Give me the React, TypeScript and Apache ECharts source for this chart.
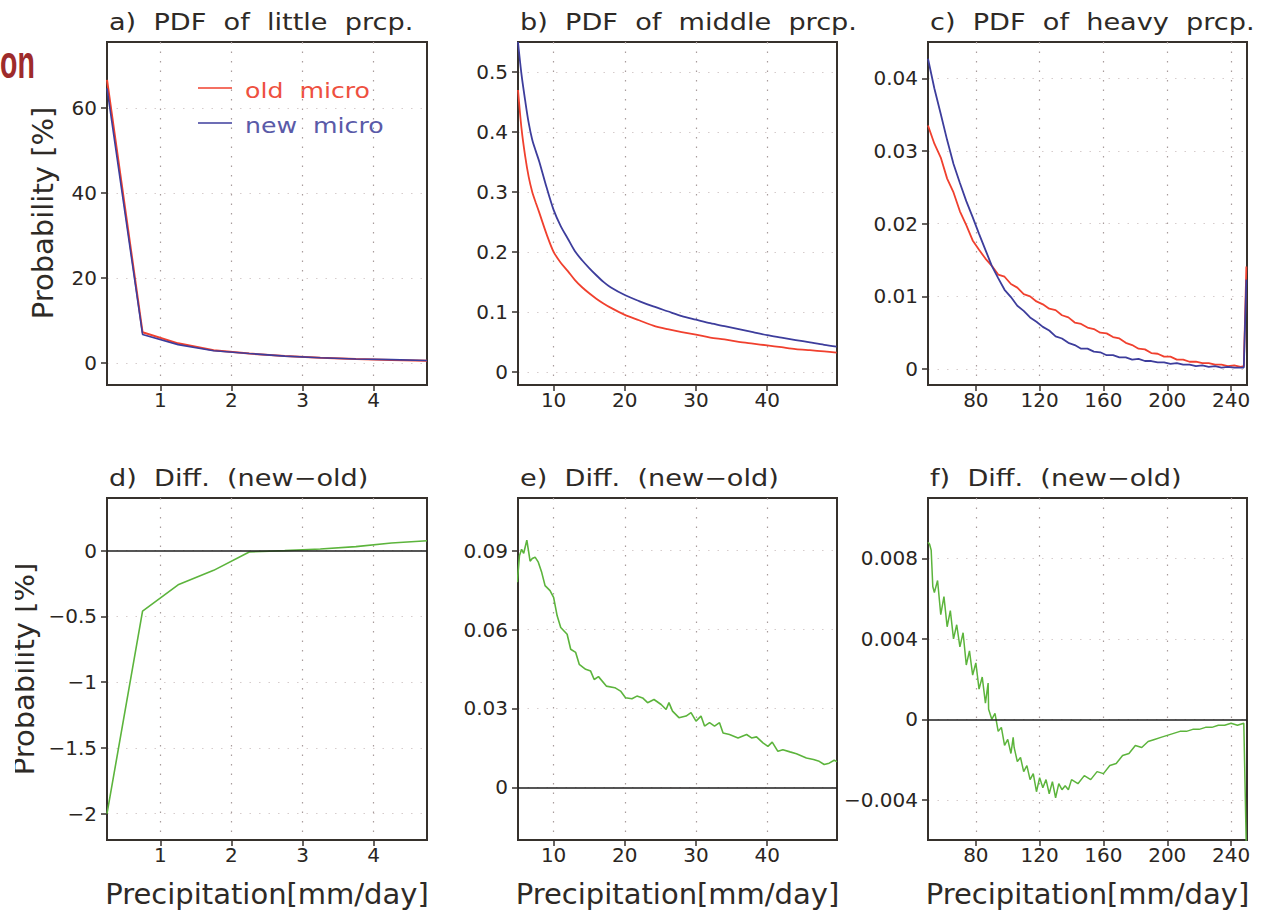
import React, { useEffect, useRef } from "react";
import * as echarts from "echarts";

// ---------- data ----------
const littleX = [0.25, 0.75, 1.25, 1.75, 2.25, 2.75, 3.25, 3.75, 4.25, 4.75];
const littleOld = [66.6, 7.2, 4.6, 3.0, 2.2, 1.6, 1.2, 0.9, 0.7, 0.5];
const littleNew = [64.6, 6.7, 4.3, 2.85, 2.2, 1.6, 1.21, 0.93, 0.76, 0.58];
const littleDiff = [-2.0, -0.46, -0.26, -0.15, -0.01, 0.0, 0.012, 0.03, 0.058, 0.075];

const middleX = [5, 5.5, 6, 6.5, 7, 7.5, 8, 9, 10, 11, 12, 13, 14, 15, 16, 17, 18, 20, 22, 24, 26, 28, 30, 32, 34, 36, 38, 40, 42, 44, 46, 48, 49.75];
const middleOld = [0.47, 0.405, 0.36, 0.325, 0.3, 0.282, 0.265, 0.23, 0.2, 0.182, 0.168, 0.153, 0.141, 0.131, 0.122, 0.114, 0.107, 0.095, 0.086, 0.077, 0.071, 0.066, 0.062, 0.057, 0.054, 0.05, 0.047, 0.044, 0.041, 0.038, 0.036, 0.034, 0.032];
const middleNew = [0.55, 0.495, 0.453, 0.415, 0.387, 0.368, 0.35, 0.308, 0.27, 0.243, 0.222, 0.201, 0.186, 0.173, 0.161, 0.15, 0.141, 0.128, 0.118, 0.109, 0.101, 0.093, 0.087, 0.081, 0.076, 0.071, 0.066, 0.061, 0.057, 0.053, 0.049, 0.045, 0.042];

const middleDiffX = [4.9, 5.2, 5.5, 5.8, 6.24, 6.7, 7.0, 7.4, 7.85, 8.3, 8.8, 9.5, 10, 10.5, 11, 11.9, 12.4, 13.1, 13.6, 14.5, 15.2, 15.7, 16.3, 17.4, 18.6, 19.4, 20.1, 21, 21.7, 22.5, 23.2, 24.1, 25.1, 25.8, 26.2, 26.7, 27.6, 28.6, 29.3, 30, 30.7, 31.2, 31.9, 32.6, 33.3, 33.8, 34.7, 35.9, 37.1, 37.8, 38.5, 39.4, 40.1, 40.7, 41.5, 42.2, 43.2, 44.1, 45.5, 46.5, 47.3, 48, 48.7, 49.4, 49.8];
const middleDiff = [0.078, 0.088, 0.0905, 0.089, 0.094, 0.086, 0.087, 0.0875, 0.0856, 0.082, 0.0767, 0.0748, 0.0722, 0.0652, 0.0608, 0.0582, 0.0525, 0.0513, 0.0468, 0.0449, 0.0442, 0.041, 0.0421, 0.0385, 0.0379, 0.0366, 0.0341, 0.0337, 0.0347, 0.034, 0.0322, 0.0334, 0.0315, 0.0296, 0.0322, 0.029, 0.0265, 0.0271, 0.0284, 0.0252, 0.0271, 0.0233, 0.0246, 0.0233, 0.0246, 0.0207, 0.0201, 0.0188, 0.0201, 0.0188, 0.0192, 0.0169, 0.0156, 0.0172, 0.0137, 0.0143, 0.0135, 0.0128, 0.0112, 0.0106, 0.0099, 0.0087, 0.0092, 0.0103, 0.0098];

const heavyX = [50, 54, 58, 62, 66, 70, 74, 78, 82, 86, 90, 94, 98, 102, 106, 110, 114, 118, 122, 126, 130, 134, 138, 142, 146, 150, 154, 158, 162, 166, 170, 174, 178, 182, 186, 190, 194, 198, 202, 206, 210, 214, 218, 222, 226, 230, 234, 238, 242, 246, 248, 249.6];
const heavyOld = [0.0335, 0.031, 0.0291, 0.0262, 0.0243, 0.0217, 0.0198, 0.0177, 0.0164, 0.0152, 0.0142, 0.0130, 0.0127, 0.0117, 0.0112, 0.0103, 0.0100, 0.0093, 0.0089, 0.0083, 0.0081, 0.0074, 0.0071, 0.0064, 0.0062, 0.0057, 0.0055, 0.0050, 0.0049, 0.0044, 0.0042, 0.0036, 0.0033, 0.0028, 0.0027, 0.0022, 0.0021, 0.0017, 0.0017, 0.0013, 0.0013, 0.0010, 0.0010, 0.0008, 0.0008, 0.0006, 0.0006, 0.0004, 0.0005, 0.0003, 0.0004, 0.0141];
const heavyNew = [0.0427, 0.0386, 0.0351, 0.0315, 0.0282, 0.0256, 0.0231, 0.0209, 0.0186, 0.0164, 0.0142, 0.0125, 0.0109, 0.0099, 0.0087, 0.0080, 0.0071, 0.0065, 0.0058, 0.0053, 0.0045, 0.0042, 0.0036, 0.0033, 0.0028, 0.0028, 0.0024, 0.0023, 0.0019, 0.0019, 0.0016, 0.0016, 0.0013, 0.0014, 0.0011, 0.0011, 0.0009, 0.0009, 0.0007, 0.0008, 0.0006, 0.0006, 0.0004, 0.0005, 0.0003, 0.0004, 0.0002, 0.0003, 0.0002, 0.0002, 0.0002, 0.0123];

const heavyDiffX = [50, 51, 52, 53, 54, 56, 58, 60, 62, 64, 66, 68, 70, 72, 74, 76, 78, 80, 82, 84, 86, 87.7, 88, 90, 92, 94, 96, 98, 100, 102, 103.4, 104, 106, 108, 110, 112, 114, 116, 118, 120, 122, 124, 126, 128, 130, 132, 134, 136, 138, 140, 144, 148, 152, 156, 160, 164, 168, 172, 176, 180, 184, 188, 192, 196, 200, 204, 208, 212, 216, 220, 224, 228, 232, 236, 240, 244, 248, 249.6];
const heavyDiff = [0.0088, 0.0087, 0.0084, 0.0066, 0.0063, 0.0069, 0.0052, 0.0061, 0.0046, 0.0054, 0.004, 0.0047, 0.0036, 0.0043, 0.0027, 0.0034, 0.0022, 0.0028, 0.0015, 0.0021, 0.0008, 0.0018, 0.0005, 0.0000, 0.0003, -0.0006, -0.0004, -0.0013, -0.0010, -0.0017, -0.0009, -0.0014, -0.0021, -0.0019, -0.0026, -0.0023, -0.0030, -0.0027, -0.0036, -0.0029, -0.0034, -0.0030, -0.0037, -0.0031, -0.0039, -0.0032, -0.0035, -0.0033, -0.0035, -0.0030, -0.0032, -0.0028, -0.0030, -0.0026, -0.0027, -0.0023, -0.0022, -0.0018, -0.0017, -0.0013, -0.0014, -0.0011, -0.0010, -0.0009, -0.0008, -0.0007, -0.0006, -0.0006, -0.0005, -0.0005, -0.0004, -0.0004, -0.0003, -0.0003, -0.0002, -0.0003, -0.0002, -0.0065];

const ticksX = [[1, 2, 3, 4], [10, 20, 30, 40], [80, 120, 160, 200, 240]];
const ticksYTop = [[0, 20, 40, 60], [0, 0.1, 0.2, 0.3, 0.4, 0.5], [0, 0.01, 0.02, 0.03, 0.04]];
const ticksYBottom = [[-2, -1.5, -1, -0.5, 0], [0, 0.03, 0.06, 0.09], [-0.004, 0, 0.004, 0.008]];
const rangeX = [[0.25, 4.75], [5, 49.8], [50, 250]];
const rangeYTop = [[-5.2, 75.5], [-0.022, 0.55], [-0.0022, 0.045]];
const rangeYBottom = [[-2.2, 0.4], [-0.02, 0.11], [-0.006, 0.011]];

const titlesTop = ["a)  PDF  of  little  prcp.", "b)  PDF  of  middle  prcp.", "c)  PDF  of  heavy  prcp."];
const titlesBottom = ["d)  Diff.  (new−old)", "e)  Diff.  (new−old)", "f)  Diff.  (new−old)"];
const legendNames = ["old  micro", "new  micro"];
const xName = "Precipitation[mm/day]";
const yName = "Probability [%]";

// ---------- styles ----------
const FONT = "DejaVu Sans";
const RED = "#f0402e";
const BLUE = "#3d3d9c";
const GREEN = "#5cb43c";
const colLeft = [107, 518, 928];
const colW = [320, 319, 319];
const rowTop = [42, 498];
const rowH = [343, 342];

function fmt(v: number) {
  const r = Math.round(v * 1e6) / 1e6;
  if (r === 0) return "0";
  return (r < 0 ? "−" : "") + String(Math.abs(r));
}

function pairs(xs: number[], ys: number[]) {
  return xs.map((x, i) => [x, ys[i]]);
}

export default function App() {
  const ref = useRef<HTMLDivElement>(null);
  useEffect(() => {
    if (!ref.current) return;
    const chart = echarts.init(ref.current, undefined, { renderer: "svg" });

    const grids: any[] = [];
    const xAxes: any[] = [];
    const yAxes: any[] = [];
    for (let r = 0; r < 2; r++) {
      for (let c = 0; c < 3; c++) {
        grids.push({
          left: colLeft[c], top: rowTop[r], width: colW[c], height: rowH[r],
          show: true, borderColor: "#36312c", borderWidth: 2, backgroundColor: "transparent",
          containLabel: false,
        });
        const idx = r * 3 + c;
        const yt = r === 0 ? ticksYTop[c] : ticksYBottom[c];
        const yr = r === 0 ? rangeYTop[c] : rangeYBottom[c];
        xAxes.push({
          type: "value", gridIndex: idx, min: rangeX[c][0], max: rangeX[c][1],
          axisLine: { show: true, onZero: false, lineStyle: { color: "#36312c", width: 2 } },
          axisTick: { show: true, length: 6, customValues: ticksX[c], lineStyle: { color: "#36312c", width: 1.5 } },
          axisLabel: { customValues: ticksX[c], formatter: fmt, fontFamily: FONT, fontSize: 20, color: "#2a2622", margin: 5 },
          splitLine: { show: true, lineStyle: { color: "#a89c9c", width: 1.2, type: [1.5, 8] } },
        });
        yAxes.push({
          type: "value", gridIndex: idx, min: yr[0], max: yr[1],
          axisLine: { show: true, onZero: false, lineStyle: { color: "#36312c", width: 2 } },
          axisTick: { show: true, length: 6, customValues: yt, lineStyle: { color: "#36312c", width: 1.5 } },
          axisLabel: { customValues: yt, formatter: fmt, fontFamily: FONT, fontSize: 20, color: "#2a2622", margin: 10 },
          splitLine: { show: true, lineStyle: { color: "#d6cccc", width: 1.2, type: [1.5, 8] } },
        });
      }
    }

    const lineBase = { type: "line", showSymbol: false, symbol: "none", clip: true, silent: true };
    const zeroLine = {
      silent: true, symbol: ["none", "none"], label: { show: false },
      lineStyle: { color: "#1e1e1e", width: 1.6, type: "solid" },
      data: [{ yAxis: 0 }],
    };
    const series: any[] = [
      { ...lineBase, name: "old micro", xAxisIndex: 0, yAxisIndex: 0, data: pairs(littleX, littleOld), lineStyle: { color: RED, width: 2 } },
      { ...lineBase, name: "new micro", xAxisIndex: 0, yAxisIndex: 0, data: pairs(littleX, littleNew), lineStyle: { color: BLUE, width: 1.6 } },
      { ...lineBase, name: "old micro", xAxisIndex: 1, yAxisIndex: 1, data: pairs(middleX, middleOld), smooth: 0.3, lineStyle: { color: RED, width: 1.8 } },
      { ...lineBase, name: "new micro", xAxisIndex: 1, yAxisIndex: 1, data: pairs(middleX, middleNew), smooth: 0.3, lineStyle: { color: BLUE, width: 1.8 } },
      { ...lineBase, name: "old micro", xAxisIndex: 2, yAxisIndex: 2, data: pairs(heavyX, heavyOld), lineStyle: { color: RED, width: 1.8 } },
      { ...lineBase, name: "new micro", xAxisIndex: 2, yAxisIndex: 2, data: pairs(heavyX, heavyNew), lineStyle: { color: BLUE, width: 1.8 } },
      { ...lineBase, name: "diff little", xAxisIndex: 3, yAxisIndex: 3, data: pairs(littleX, littleDiff), lineStyle: { color: GREEN, width: 1.6 }, markLine: zeroLine },
      { ...lineBase, name: "diff middle", xAxisIndex: 4, yAxisIndex: 4, data: pairs(middleDiffX, middleDiff), lineStyle: { color: GREEN, width: 1.6 }, markLine: zeroLine },
      { ...lineBase, name: "diff heavy", xAxisIndex: 5, yAxisIndex: 5, data: pairs(heavyDiffX, heavyDiff), lineStyle: { color: GREEN, width: 1.5 }, markLine: zeroLine },
    ];

    const titleText = (text: string, x: number, y: number) => ({
      type: "text", x, y, scaleX: 1.18, silent: true,
      style: { text, fontFamily: FONT, fontSize: 23, fill: "#2e2a26", align: "left", verticalAlign: "middle" },
    });

    const graphic: any[] = [];
    for (let c = 0; c < 3; c++) {
      graphic.push(titleText(titlesTop[c], colLeft[c] + 2, 22));
      graphic.push(titleText(titlesBottom[c], colLeft[c] + 2, 478));
      graphic.push({
        type: "text", x: colLeft[c] + colW[c] / 2, y: 894, silent: true,
        style: { text: xName, fontFamily: FONT, fontSize: 29, fill: "#2e2a26", align: "center", verticalAlign: "middle" },
      });
    }
    graphic.push({
      type: "text", x: 43, y: 213, rotation: Math.PI / 2, silent: true,
      style: { text: yName, fontFamily: FONT, fontSize: 29, fill: "#2e2a26", align: "center", verticalAlign: "middle" },
    });
    graphic.push({
      type: "text", x: 24, y: 669, rotation: Math.PI / 2, silent: true,
      style: { text: yName, fontFamily: FONT, fontSize: 29, fill: "#2e2a26", align: "center", verticalAlign: "middle" },
    });
    graphic.push({ type: "rect", shape: { x: 0, y: 540, width: 15, height: 260 }, style: { fill: "#ffffff" }, silent: true, z: 100 });
    graphic.push({
      type: "text", x: 0, y: 62, scaleX: 0.62, silent: true,
      style: { text: "on", fontFamily: "Liberation Sans", fontWeight: "bold", fontSize: 46, fill: "#9e2b2b", align: "left", verticalAlign: "middle" },
    });
    // legend
    const legCols = [RED, BLUE];
    const legText = ["#ee5040", "#5a5aa8"];
    for (let i = 0; i < 2; i++) {
      const y = 88 + i * 35;
      graphic.push({ type: "line", shape: { x1: 198, y1: y, x2: 232, y2: y }, style: { stroke: legCols[i], lineWidth: 1.6 }, silent: true });
      graphic.push({
        type: "text", x: 245, y: y + 2, scaleX: 1.2, silent: true,
        style: { text: legendNames[i], fontFamily: FONT, fontSize: 21, fill: legText[i], align: "left", verticalAlign: "middle" },
      });
    }

    chart.setOption({
      animation: false,
      backgroundColor: "#ffffff",
      grid: grids,
      xAxis: xAxes,
      yAxis: yAxes,
      series,
      graphic,
    });
    return () => chart.dispose();
  }, []);

  return <div ref={ref} style={{ position: "absolute", left: 0, top: 0, width: 1266, height: 914 }} />;
}
